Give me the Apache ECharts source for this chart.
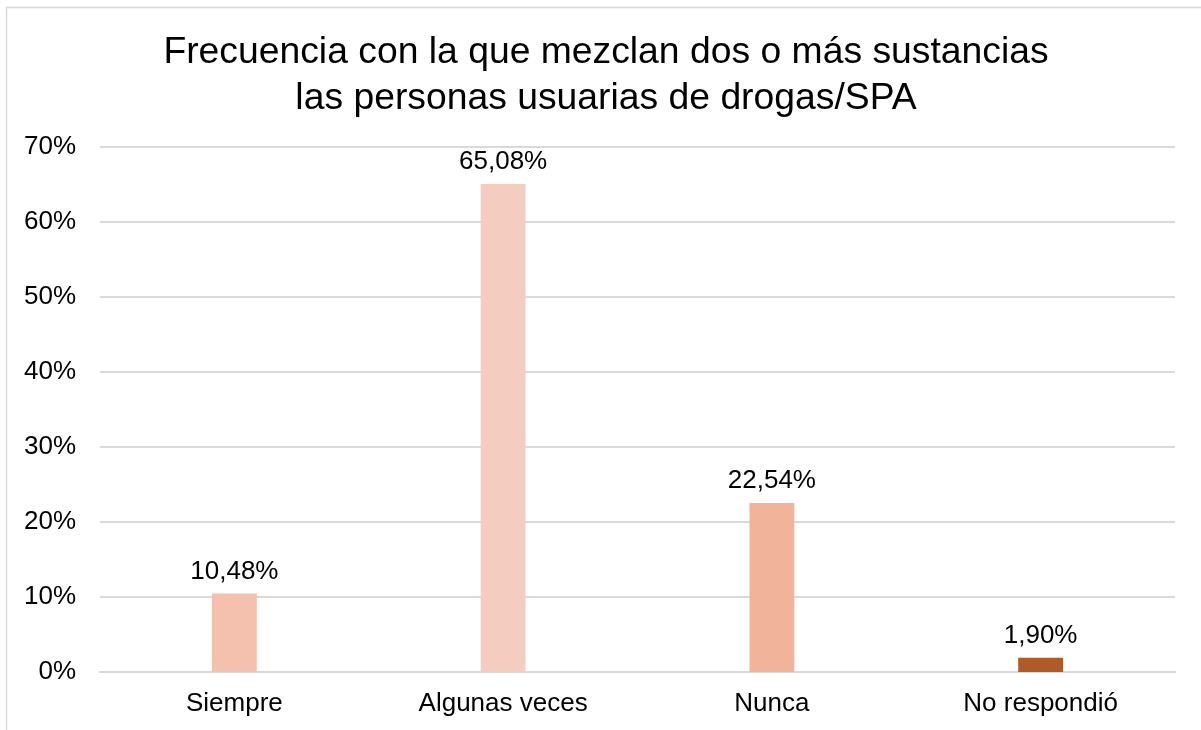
<!DOCTYPE html>
<html>
<head>
<meta charset="utf-8">
<script src="https://cdn.jsdelivr.net/npm/echarts@6/dist/echarts.min.js"></script>
<style>
  html, body { margin: 0; padding: 0; background: #ffffff; }
  #chart { width: 1201px; height: 730px; }
</style>
</head>
<body>
<div id="chart"></div>
<script>
// Survey answers and their shares (%)
const categories = ['Siempre', 'Algunas veces', 'Nunca', 'No respondió'];
const values = [10.48, 65.08, 22.54, 1.90];
const barColors = ['#F4C1AF', '#F5CDC0', '#F2B39B', '#B05A26'];
const yTicks = [0, 10, 20, 30, 40, 50, 60, 70];

const fmt = v => v.toFixed(2).replace('.', ',') + '%';

const chart = echarts.init(document.getElementById('chart'), null, { renderer: 'canvas' });

chart.setOption({
  backgroundColor: '#ffffff',
  animation: false,
  textStyle: { fontFamily: 'Liberation Sans, Arial, sans-serif' },
  title: {
    text: 'Frecuencia con la que mezclan dos o más sustancias\nlas personas usuarias de drogas/SPA',
    left: 601,
    textAlign: 'center',
    top: 25,
    textStyle: {
      fontSize: 37.3,
      fontWeight: 'normal',
      color: '#000000',
      lineHeight: 46,
      fontFamily: 'Liberation Sans, Arial, sans-serif'
    }
  },
  graphic: [{
    type: 'rect',
    shape: { x: 6.5, y: 7.5, width: 1400, height: 900 },
    style: { fill: 'none', stroke: '#d9d9d9', lineWidth: 1.5 },
    silent: true,
    z: 100
  }],
  grid: { left: 100, right: 26, top: 147, bottom: 58, containLabel: false },
  xAxis: {
    type: 'category',
    data: categories,
    axisLine: { show: true, lineStyle: { color: '#d9d9d9', width: 2 } },
    axisTick: { show: false },
    axisLabel: { color: '#000000', fontSize: 26, margin: 19 }
  },
  yAxis: {
    type: 'value',
    min: yTicks[0],
    max: yTicks[yTicks.length - 1],
    interval: 10,
    axisLine: { show: false },
    axisTick: { show: false },
    splitLine: { lineStyle: { color: '#d9d9d9', width: 2 } },
    axisLabel: { color: '#000000', fontSize: 26, margin: 24, formatter: v => v + '%' }
  },
  series: [{
    type: 'bar',
    barWidth: '16.7%',
    data: values.map((v, i) => ({ value: v, itemStyle: { color: barColors[i] } })),
    label: {
      show: true,
      position: 'top',
      distance: 9,
      color: '#000000',
      fontSize: 26,
      formatter: p => fmt(p.value)
    }
  }]
});
</script>
</body>
</html>
